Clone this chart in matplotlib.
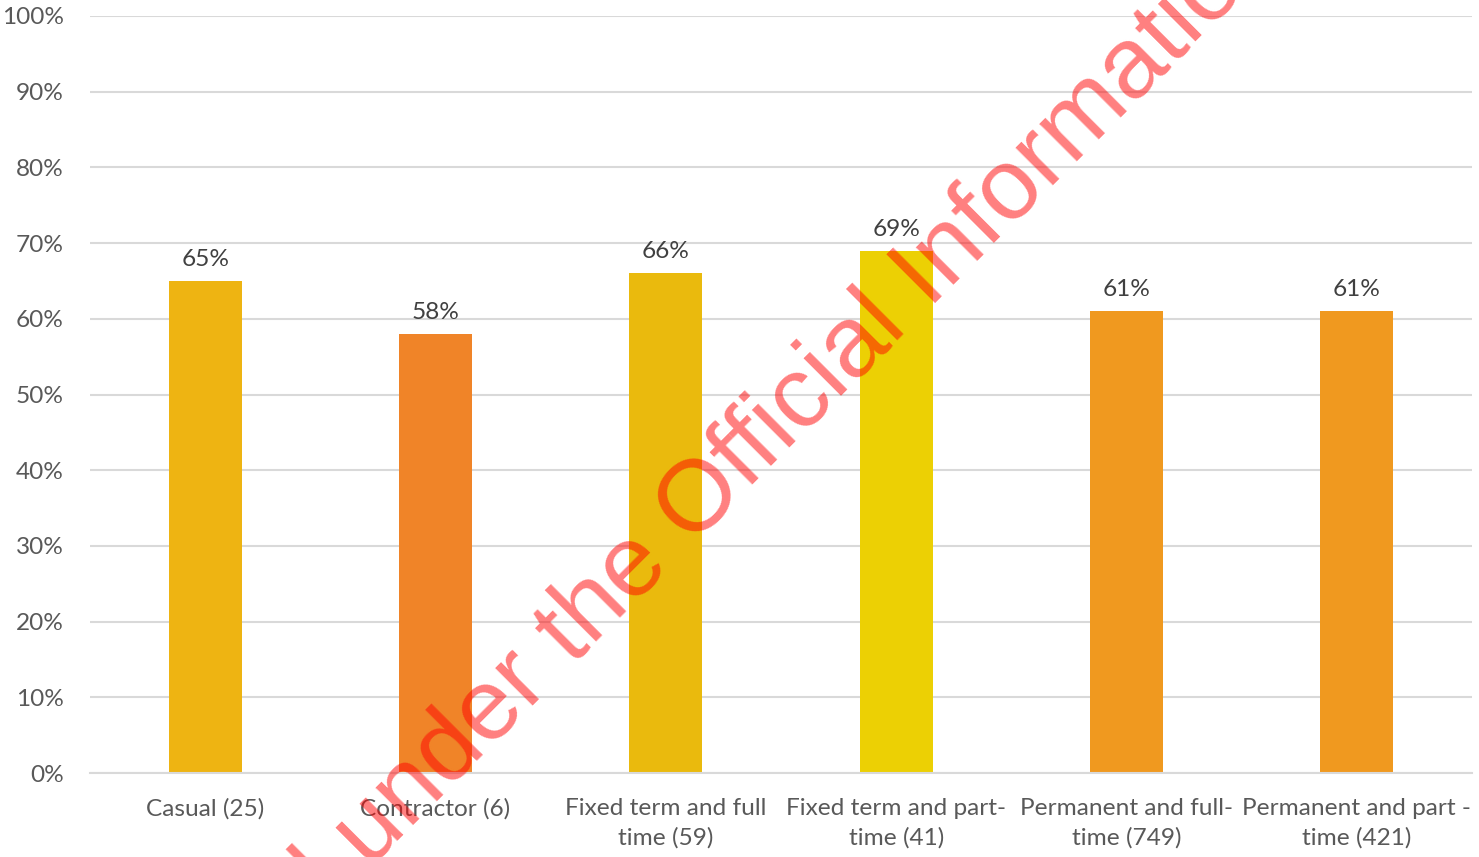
import matplotlib
matplotlib.use("Agg")
import matplotlib.pyplot as plt
from matplotlib.ticker import MultipleLocator, FuncFormatter

# Share of respondents by employment type
categories = [
    "Casual (25)",
    "Contractor (6)",
    "Fixed term and full\ntime (59)",
    "Fixed term and part-\ntime (41)",
    "Permanent and full-\ntime (749)",
    "Permanent and part -\ntime (421)",
]
values = [65, 58, 66, 69, 61, 61]
bar_colors = ["#EEB412", "#F08428", "#EABA0D", "#ECD004", "#F0991F", "#F0991F"]

W, H = 1479, 857
fig = plt.figure(figsize=(W / 100, H / 100), dpi=100)
ax = fig.add_axes([90 / W, (H - 773) / H, (1472 - 90) / W, (773 - 16) / H])

font = "Lato"
fsize = 17.6
x = range(len(categories))
bars = ax.bar(x, values, width=0.317, color=bar_colors, zorder=2)

ax.set_xlim(-0.5, len(categories) - 0.5)
ax.set_ylim(0, 100)
ax.yaxis.set_major_locator(MultipleLocator(10))
ax.yaxis.set_major_formatter(FuncFormatter(lambda v, _: f"{v:.0f}%"))
ax.grid(axis="y", color="#D9D9D9", linewidth=1.5, zorder=0)
ax.set_axisbelow(True)
for side in ["top", "right", "left"]:
    ax.spines[side].set_visible(False)
ax.spines["bottom"].set_color("#D9D9D9")
ax.spines["bottom"].set_linewidth(1.5)

ax.set_xticks(list(x))
ax.set_xticklabels(categories, fontsize=fsize, color="#595959", family=font,
                   linespacing=1.45)
ax.tick_params(axis="x", length=0, pad=18)
ax.tick_params(axis="y", length=0, pad=19, labelsize=fsize, labelcolor="#595959")
for lbl in ax.get_yticklabels():
    lbl.set_family(font)

for rect, v in zip(bars, values):
    ax.annotate(f"{v}%", (rect.get_x() + rect.get_width() / 2, v),
                xytext=(0, 8), textcoords="offset points", ha="center",
                va="bottom", fontsize=fsize, color="#404040", family=font)

# Diagonal release stamp across the page
fig.text(726.5 / W, 1 - 511.5 / H, "Released under the Official Information Act",
         rotation=45, rotation_mode="anchor", ha="center", va="baseline",
         fontsize=73, family="Liberation Sans", color="red", alpha=0.5,
         zorder=10)

fig.savefig("out.png", dpi=100)
